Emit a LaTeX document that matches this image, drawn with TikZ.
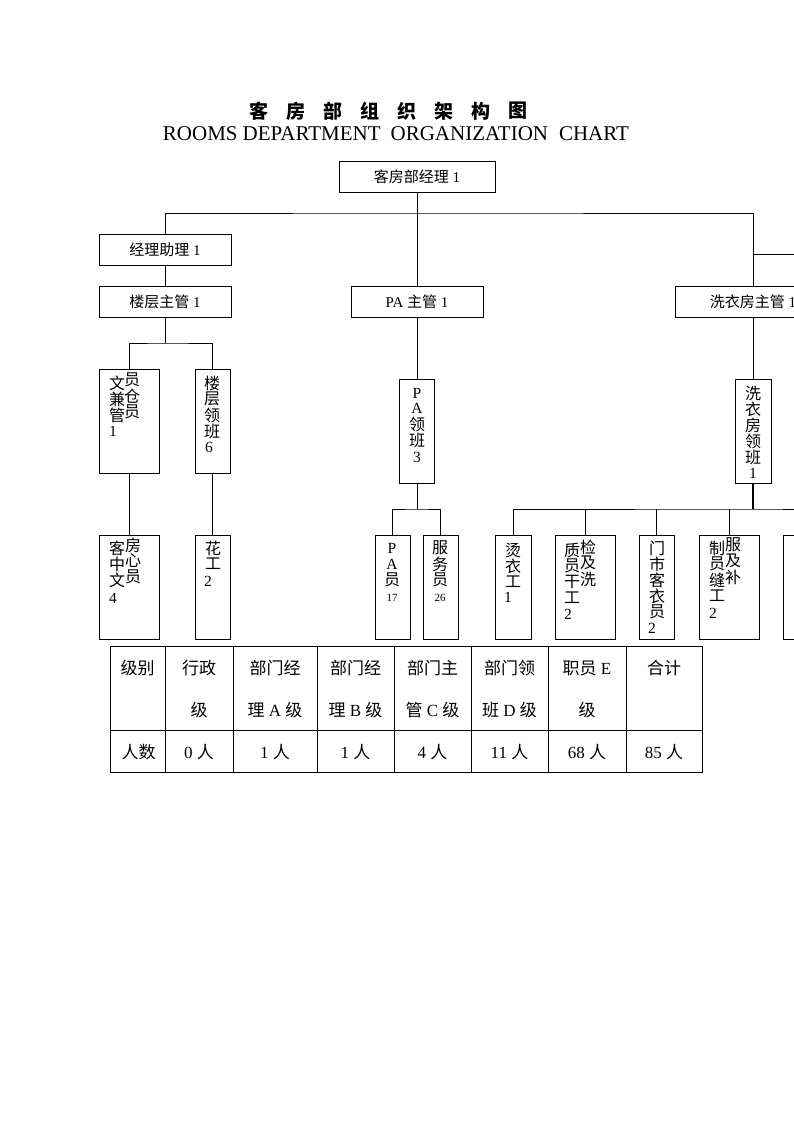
\documentclass[tikz,border=0pt]{standalone}
\usepackage{fontspec}
\setmainfont{Liberation Serif}
\newfontfamily\cjk{Noto Sans CJK SC}
\newcommand\vcolumn[4]{\foreach \c [count=\i from 0] in {#4} \node[vc] (#1\i) at (#2,{#3+16*\i}) {\c};}
\begin{document}
\begin{tikzpicture}[x=1pt,y=-1pt,
  every node/.style={inner sep=0pt},
  box/.style={draw, line width=0.8pt, rectangle, font=\fontsize{15}{17}\selectfont},
  hbox/.style={box, minimum height=31},
  vbox/.style={box, minimum height=104},
  vc/.style={font=\cjk\fontsize{16}{16}\selectfont},
  num/.style={font=\fontsize{15.5}{16}\selectfont},
  smallnum/.style={font=\fontsize{11}{12}\selectfont},
  link/.style={line width=0.8pt},
  thicklink/.style={line width=2pt},
  tab/.style={font=\fontsize{17}{20}\selectfont}]
\useasboundingbox[fill=white] (0,0) rectangle (794,1123);

% title
\foreach \c [count=\i from 0] in {客,房,部,组,织,架,构,图}
  \node[font=\cjk\bfseries\fontsize{19}{20}\selectfont] (tt\i) at ({258.5+37*\i},111) {\c};
\node[font=\fontsize{21}{22}\selectfont] (te) at (396,134)
  {ROOMS\hspace{5pt}DEPARTMENT\hspace{10pt}ORGANIZATION\hspace{11pt}CHART};

% horizontal boxes
\node[hbox, minimum width=156] (gm) at (417,176.5) {{\cjk 客房部经理} 1};
\node[hbox, minimum width=132] (ast) at (165,249.5) {{\cjk 经理助理} 1};
\node[hbox, minimum width=132] (fsup) at (165,301.5) {{\cjk 楼层主管} 1};
\node[hbox, minimum width=132] (pasup) at (417,301.5) {PA {\cjk 主管} 1};
\node[hbox, minimum width=156] (lsup) at (753,301.5) {{\cjk 洗衣房主管} 1};

% vertical boxes (upper)
\node[vbox, minimum width=60] (clerk) at (129,421) {};
\node[vbox, minimum width=35] (flead) at (212.5,421) {};
\node[vbox, minimum width=35] (palead) at (417,431) {};
\node[vbox, minimum width=36] (llead) at (753,431) {};
% vertical boxes (lower)
\node[vbox, minimum width=60] (center) at (129,587) {};
\node[vbox, minimum width=35] (flor) at (212.5,587) {};
\node[vbox, minimum width=35] (paatt) at (392.5,587) {};
\node[vbox, minimum width=35] (svc) at (440.5,587) {};
\node[vbox, minimum width=36] (iron) at (513,587) {};
\node[vbox, minimum width=60] (qc) at (585,587) {};
\node[vbox, minimum width=35] (shop) at (656.5,587) {};
\node[vbox, minimum width=60] (unif) at (729,587) {};
\node[vbox, minimum width=60] (nx) at (813,587) {};

% texts in vertical boxes
\vcolumn{clA}{117}{383}{文,兼,管}
\vcolumn{clB}{132}{380}{员,仓,员}
\node[num] (clN) at (113,431) {1};
\vcolumn{flA}{212}{383}{楼,层,领,班}
\node[num] (flN) at (209,447) {6};
\vcolumn{plA}{417}{424}{领,班}
\node[num] (plP) at (417,393) {P};
\node[num] (plA2) at (417,408) {A};
\node[num] (plN) at (417,457) {3};
\vcolumn{llA}{753}{393}{洗,衣,房,领,班}
\node[num] (llN) at (753,473) {1};
\vcolumn{ceA}{117}{548}{客,中,文}
\vcolumn{ceB}{133}{545}{房,心,员}
\node[num] (ceN) at (113,598) {4};
\vcolumn{foA}{213}{548}{花,工}
\node[num] (foN) at (208,581) {2};
\node[num] (paP) at (392,548) {P};
\node[num] (paA) at (392,564) {A};
\vcolumn{paC}{392}{580}{员}
\node[smallnum] (paN) at (392,598) {17};
\vcolumn{svA}{440}{548}{服,务,员}
\node[smallnum] (svN) at (440,598) {26};
\vcolumn{irA}{513}{550}{烫,衣,工}
\node[num] (irN) at (508,597) {1};
\vcolumn{qcA}{572}{550}{质,员,干,工}
\vcolumn{qcB}{588}{547}{检,及,洗}
\node[num] (qcN) at (568,614) {2};
\vcolumn{shA}{657}{548}{门,市,客,衣,员}
\node[num] (shN) at (652,628) {2};
\vcolumn{unA}{717}{548}{制,员,缝,工}
\vcolumn{unB}{733}{545}{服,及,补}
\node[num] (unN) at (713,613) {2};

% connectors
\coordinate (top) at (417,213);
\coordinate (rside) at (800,254);
\coordinate (fj) at (165,343);
\coordinate (pj) at (417,509);
\coordinate (lj) at (753,509);
\draw[link] (gm) -- (pasup);
\draw[link] (ast.north) |- (top) -| (lsup.north);
\draw[link] (lsup.north |- rside) -- (rside);
\draw[link] (ast) -- (fsup);
\draw[link] (fsup) -- (fj);
\draw[link] (clerk.north) |- (fj) -| (flead.north);
\draw[link] (clerk) -- (center);
\draw[link] (flead) -- (flor);
\draw[link] (pasup) -- (palead);
\draw[link] (palead) -- (pj);
\draw[link] (paatt.north) |- (pj) -| (svc.north);
\draw[link] (lsup) -- (llead);
\draw[thicklink] (llead) -- (lj);
\draw[link] (iron.north) |- (lj) -| (nx.north);
\draw[link] (qc.north) -- (qc.north |- lj);
\draw[link] (shop.north) -- (shop.north |- lj);
\draw[link] (unif.north) -- (unif.north |- lj);

% table
\draw[link] (110,646) rectangle (702,772);
\draw[link] (110,730) -- (702,730);
\foreach \x in {165,233,317,394,471,548,626}
  \draw[link] (\x,646) -- (\x,772);
\node[tab] (h1) at (137.5,668) {\cjk 级别};
\node[tab] (h2a) at (199,668) {\cjk 行政};
\node[tab] (h2b) at (199,710) {\cjk 级};
\node[tab] (h3a) at (275,668) {\cjk 部门经};
\node[tab] (h3b) at (275,710) {{\cjk 理} A {\cjk 级}};
\node[tab] (h4a) at (355.5,668) {\cjk 部门经};
\node[tab] (h4b) at (355.5,710) {{\cjk 理} B {\cjk 级}};
\node[tab] (h5a) at (432.5,668) {\cjk 部门主};
\node[tab] (h5b) at (432.5,710) {{\cjk 管} C {\cjk 级}};
\node[tab] (h6a) at (509.5,668) {\cjk 部门领};
\node[tab] (h6b) at (509.5,710) {{\cjk 班} D {\cjk 级}};
\node[tab] (h7a) at (587,668) {{\cjk 职员} E};
\node[tab] (h7b) at (587,710) {\cjk 级};
\node[tab] (h8a) at (664,668) {\cjk 合计};
\node[tab] (r1) at (138.5,752) {\cjk 人数};
\node[tab] (r2) at (199,752) {0 {\cjk 人}};
\node[tab] (r3) at (275,752) {1 {\cjk 人}};
\node[tab] (r4) at (355.5,752) {1 {\cjk 人}};
\node[tab] (r5) at (432.5,752) {4 {\cjk 人}};
\node[tab] (r6) at (509.5,752) {11 {\cjk 人}};
\node[tab] (r7) at (587,752) {68 {\cjk 人}};
\node[tab] (r8) at (664,752) {85 {\cjk 人}};
\end{tikzpicture}
\end{document}
